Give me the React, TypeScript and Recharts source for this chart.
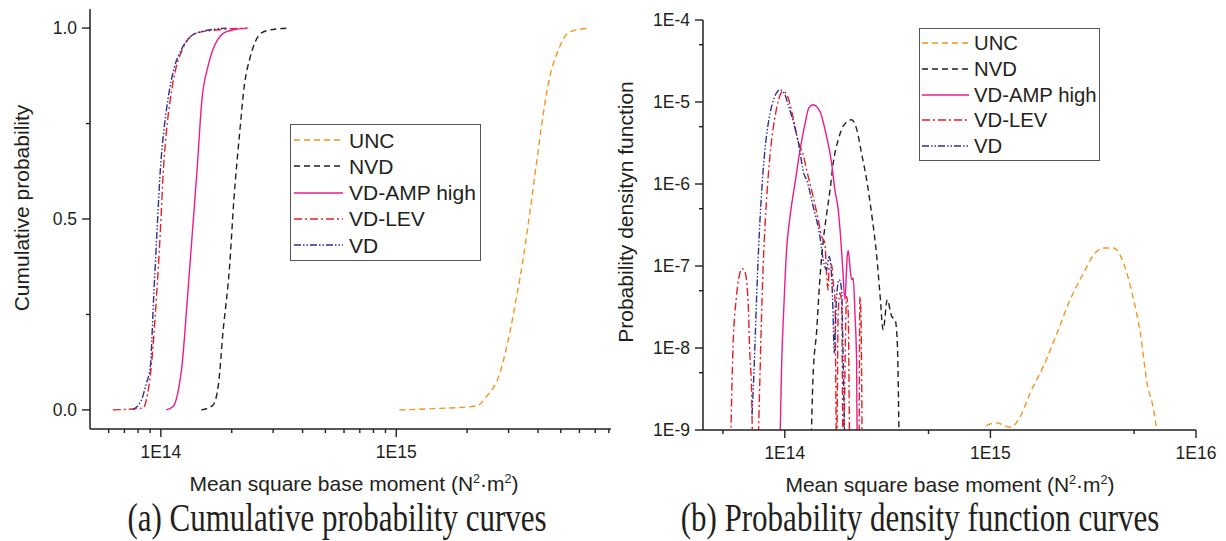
import React from 'react'
import { LineChart, Line, XAxis, YAxis, Legend } from 'recharts'

type Pt = [number, number]

// (a) cumulative probability, x = mean square base moment
const cdfUNC: Pt[] = [[1.03e15,0],[1.53e15,0.004],[2.19e15,0.01],[2.41e15,0.034],[2.75e15,0.095],[3.03e15,0.2],[3.23e15,0.29],[3.45e15,0.39],[3.68e15,0.51],[3.93e15,0.64],[4.2e15,0.77],[4.48e15,0.87],[4.86e15,0.94],[5.45e15,0.99],[6.63e15,1]]
const cdfNVD: Pt[] = [[1.485e14,0],[1.663e14,0.012],[1.758e14,0.069],[1.834e14,0.2],[1.958e14,0.375],[2.042e14,0.549],[2.16e14,0.724],[2.27e14,0.856],[2.38e14,0.917],[2.67e14,0.987],[2.9e14,0.995],[3.52e14,1]]
const cdfAMP: Pt[] = [[1.054e14,0],[1.124e14,0.008],[1.2e14,0.069],[1.228e14,0.113],[1.295e14,0.288],[1.36e14,0.4625],[1.428e14,0.637],[1.494e14,0.812],[1.584e14,0.899],[1.663e14,0.943],[1.847e14,0.987],[2.02e14,0.995],[2.31e14,1]]
const cdfLEV: Pt[] = [[6.25e13,0],[8.4e13,0.005],[8.67e13,0.025],[9.1e13,0.113],[9.56e13,0.288],[9.94e13,0.4625],[1.027e14,0.637],[1.054e14,0.725],[1.096e14,0.812],[1.163e14,0.899],[1.233e14,0.943],[1.413e14,0.987],[1.72e14,0.995],[2.34e14,1]]
const cdfVD: Pt[] = [[7.58e13,0],[8.26e13,0.025],[8.67e13,0.069],[9.02e13,0.113],[9.31e13,0.288],[9.62e13,0.4625],[9.97e13,0.637],[1.027e14,0.725],[1.071e14,0.812],[1.143e14,0.899],[1.221e14,0.943],[1.413e14,0.987],[1.9e14,1]]

// (b) probability density (5e-10 = drops below the 1E-9 floor)
const pdfUNC: Pt[] = [[8.9e14,5e-10],[9.53e14,1.13e-9],[1.07e15,1.22e-9],[1.25e15,1.08e-9],[1.4e15,1.47e-9],[1.56e15,2.83e-9],[1.81e15,5.97e-9],[2.11e15,1.52e-8],[2.44e15,3.88e-8],[2.84e15,8.2e-8],[3.18e15,1.37e-7],[3.55e15,1.66e-7],[3.97e15,1.66e-7],[4.44e15,1.09e-7],[4.97e15,3.88e-8],[5.36e15,1.52e-8],[5.78e15,3.74e-9],[6.22e15,1.77e-9],[6.66e15,5e-10]]
const pdfNVD: Pt[] = [[1.34e14,5e-10],[1.37e14,4.1e-9],[1.43e14,1.67e-8],[1.48e14,6.8e-8],[1.54e14,2.09e-7],[1.6e14,4.43e-7],[1.66e14,8.5e-7],[1.72e14,1.8e-6],[1.82e14,3.47e-6],[1.92e14,5.04e-6],[2.11e14,6.08e-6],[2.24e14,4.6e-6],[2.36e14,2.39e-6],[2.5e14,1.13e-6],[2.64e14,4.43e-7],[2.8e14,1.31e-7],[2.9e14,4.69e-8],[3.01e14,1.67e-8],[3.15e14,3.88e-8],[3.31e14,2.43e-8],[3.44e14,2.21e-8],[3.52e14,1.26e-8],[3.56e14,4.1e-9],[3.6e14,5e-10]]
const pdfAMP: Pt[] = [[9.45e13,5e-10],[9.64e13,5.7e-9],[9.92e13,3.7e-8],[1.019e14,1.51e-7],[1.058e14,3.85e-7],[1.118e14,9.8e-7],[1.183e14,2.5e-6],[1.251e14,5.29e-6],[1.309e14,8.5e-6],[1.373e14,9.27e-6],[1.481e14,7.68e-6],[1.596e14,3.8e-6],[1.689e14,1.8e-6],[1.752e14,8.5e-7],[1.818e14,4.86e-7],[1.867e14,2.3e-7],[1.91e14,9.9e-8],[1.96e14,3.88e-8],[2.012e14,1.31e-7],[2.034e14,1.55e-7],[2.073e14,9.9e-8],[2.113e14,6.8e-8],[2.151e14,7.14e-8],[2.193e14,2.67e-8],[2.235e14,6.56e-9],[2.25e14,5e-10]]
const pdfLEV: Pt[] = [[5.44e13,5e-10],[5.6e13,1.05e-8],[5.82e13,4.26e-8],[6.1e13,8.8e-8],[6.2e13,9.3e-8],[6.39e13,8.6e-8],[6.63e13,3.7e-8],[6.75e13,9.1e-9],[6.88e13,3.57e-9],[7.0e13,5e-10],[7.36e13,5e-10],[7.55e13,3.57e-9],[7.7e13,2.32e-8],[7.84e13,9.46e-8],[8.05e13,3.85e-7],[8.29e13,1.18e-6],[8.61e13,3.31e-6],[8.94e13,6.38e-6],[9.28e13,1.02e-5],[9.83e13,1.35e-5],[1.038e14,1.12e-5],[1.098e14,6.38e-6],[1.161e14,3.31e-6],[1.228e14,2.28e-6],[1.276e14,1.49e-6],[1.373e14,7.06e-7],[1.453e14,3.67e-7],[1.51e14,2.3e-7],[1.566e14,1.9e-7],[1.596e14,8.2e-8],[1.625e14,5.1e-8],[1.644e14,9.9e-8],[1.689e14,1.04e-7],[1.72e14,6.2e-8],[1.752e14,4.26e-8],[1.786e14,5e-10],[1.818e14,2.67e-8],[1.853e14,4.69e-8],[1.889e14,3.56e-8],[1.923e14,5e-10],[1.998e14,4.26e-8],[2.034e14,2.67e-8],[2.073e14,5e-10],[2.293e14,5e-10],[2.319e14,4.26e-8],[2.345e14,2.67e-8],[2.379e14,5e-10]]
const pdfVD: Pt[] = [[6.93e13,1.54e-9],[7.09e13,5.7e-9],[7.28e13,3.7e-8],[7.47e13,1.82e-7],[7.7e13,7.41e-7],[7.99e13,2.5e-6],[8.29e13,5.29e-6],[8.67e13,9.27e-6],[9.11e13,1.29e-5],[9.45e13,1.41e-5],[9.92e13,1.29e-5],[1.038e14,9.27e-6],[1.098e14,5.8e-6],[1.161e14,3.31e-6],[1.242e14,1.3e-6],[1.276e14,1.13e-6],[1.373e14,5.33e-7],[1.481e14,2.3e-7],[1.537e14,1.19e-7],[1.596e14,9e-8],[1.644e14,1.31e-7],[1.689e14,7.47e-8],[1.72e14,2.21e-8],[1.738e14,8.7e-9],[1.786e14,4.26e-8],[1.839e14,6.8e-8],[1.889e14,5.1e-8],[1.923e14,6.56e-9],[1.96e14,5e-10]]

const names = ['UNC', 'NVD', 'VD-AMP high', 'VD-LEV', 'VD']
const colors = ['#F7941D', '#231F20', '#EC1C8C', '#ED1C24', '#2E3192']
const dashes = ['6 4', '6 4', undefined, '8 3 2 3', '7 2 1.5 2 1.5 2']
const cdfSeries = [cdfUNC, cdfNVD, cdfAMP, cdfLEV, cdfVD]
const pdfSeries = [pdfUNC, pdfNVD, pdfAMP, pdfLEV, pdfVD]

const cdfXTicks = [6e13,7e13,8e13,9e13,1e14,2e14,3e14,4e14,5e14,6e14,7e14,8e14,9e14,1e15,2e15,3e15,4e15,5e15,6e15,7e15,8e15]
const cdfXLabels: Record<string,string> = { [String(1e14)]: '1E14', [String(1e15)]: '1E15' }
const cdfYTicks = [0, 0.25, 0.5, 0.75, 1]
const cdfYLabels: Record<string,string> = { '0': '0.0', '0.5': '0.5', '1': '1.0' }
const pdfXTicks = [5e13, 1e14, 5e14, 1e15, 5e15, 1e16]
const pdfXLabels: Record<string,string> = { [String(1e14)]: '1E14', [String(1e15)]: '1E15', [String(1e16)]: '1E16' }
const pdfYTicks = [1e-9,5e-9,1e-8,5e-8,1e-7,5e-7,1e-6,5e-6,1e-5,5e-5,1e-4]
const pdfYLabels: Record<string,string> = { [String(1e-9)]: '1E-9', [String(1e-8)]: '1E-8', [String(1e-7)]: '1E-7', [String(1e-6)]: '1E-6', [String(1e-5)]: '1E-5', [String(1e-4)]: '1E-4' }

const INK = '#231F20'
const SANS = 'Arial, "Liberation Sans", sans-serif'
const SERIF = '"Times New Roman", "Liberation Serif", serif'

const rows = (pts: Pt[]) => pts.map(([x, y]) => ({ x, y }))

const XTick = ({ x, y, payload, labels }: any) => {
  const lab = labels[String(payload.value)]
  return (
    <g>
      <line x1={x} x2={x} y1={y} y2={y + (lab ? 8 : 4)} stroke={INK} strokeWidth={1.4} />
      {lab && <text x={x} y={y + 29} textAnchor="middle" fontSize={17.5} fontFamily={SANS} fill={INK}>{lab}</text>}
    </g>
  )
}
const YTick = ({ x, y, payload, labels }: any) => {
  const lab = labels[String(payload.value)]
  return (
    <g>
      <line x1={x - (lab ? 8 : 4)} x2={x} y1={y} y2={y} stroke={INK} strokeWidth={1.4} />
      {lab && <text x={x - 13} y={y} dy="0.36em" textAnchor="end" fontSize={17.5} fontFamily={SANS} fill={INK}>{lab}</text>}
    </g>
  )
}

const LegendBox = ({ width, rowH, padTop, inset, lineLen, gap, fontSize }: any) => (
  <div style={{ width, boxSizing: 'border-box', border: '1.3px solid #555', background: '#fff', paddingTop: padTop, paddingBottom: padTop, fontFamily: SANS, color: INK }}>
    {names.map((n, i) => (
      <div key={n} style={{ display: 'flex', alignItems: 'center', height: rowH }}>
        <svg width={lineLen} height={6} style={{ marginLeft: inset, flex: 'none' }}>
          <line x1={0} x2={lineLen} y1={3} y2={3} stroke={colors[i]} strokeWidth={1.5} strokeDasharray={dashes[i]} />
        </svg>
        <span style={{ marginLeft: gap, fontSize, lineHeight: 1, whiteSpace: 'nowrap' }}>{n}</span>
      </div>
    ))}
  </div>
)

const AxisTitle = () => (
  <span>Mean square base moment (N<sup style={{ fontSize: '0.6em', lineHeight: 0 }}>2</sup>·m<sup style={{ fontSize: '0.6em', lineHeight: 0 }}>2</sup>)</span>
)

const abs = (left: number, top: number, extra: React.CSSProperties = {}): React.CSSProperties => ({
  position: 'absolute', left, top, transform: 'translate(-50%,-50%)', whiteSpace: 'nowrap', lineHeight: 1, color: INK, ...extra,
})

export default function App() {
  return (
    <div style={{ position: 'absolute', left: 0, top: 0, width: 1226, height: 541, background: '#fff', overflow: 'hidden' }}>
      <div style={{ position: 'absolute', left: 0, top: 0 }}>
        <LineChart width={620} height={541} margin={{ top: 9, right: 9, bottom: 72, left: 0 }}>
          <XAxis dataKey="x" type="number" scale="log" domain={[5e13, 8.17e15]} allowDataOverflow ticks={cdfXTicks} interval={0}
            height={40} tickSize={0} tickMargin={0} tickLine={false} axisLine={{ stroke: INK, strokeWidth: 1.5 }}
            tick={(p: any) => <XTick {...p} labels={cdfXLabels} />} />
          <YAxis type="number" domain={[-0.05, 1.05]} allowDataOverflow ticks={cdfYTicks} interval={0} width={90}
            tickSize={0} tickMargin={0} tickLine={false} axisLine={{ stroke: INK, strokeWidth: 1.5 }}
            tick={(p: any) => <YTick {...p} labels={cdfYLabels} />} />
          {cdfSeries.map((s, i) => (
            <Line key={names[i]} data={rows(s)} dataKey="y" name={names[i]} type="monotone" stroke={colors[i]} strokeWidth={1.4}
              strokeDasharray={dashes[i]} dot={false} isAnimationActive={false} />
          ))}
          <Legend layout="vertical" align="center" verticalAlign="middle" wrapperStyle={{ left: 290, top: 124, width: 191 }}
            content={() => <LegendBox width={191} rowH={26.25} padTop={2} inset={3} lineLen={49} gap={6} fontSize={21} />} />
        </LineChart>
      </div>
      <div style={{ position: 'absolute', left: 610, top: 0 }}>
        <LineChart width={616} height={541} margin={{ top: 20, right: 30, bottom: 71, left: 0 }}>
          <XAxis dataKey="x" type="number" scale="log" domain={[4e13, 1e16]} allowDataOverflow ticks={pdfXTicks} interval={0}
            height={40} tickSize={0} tickMargin={0} tickLine={false} axisLine={{ stroke: INK, strokeWidth: 1.5 }}
            tick={(p: any) => <XTick {...p} labels={pdfXLabels} />} />
          <YAxis type="number" scale="log" domain={[1e-9, 1e-4]} allowDataOverflow ticks={pdfYTicks} interval={0} width={93}
            tickSize={0} tickMargin={0} tickLine={false} axisLine={{ stroke: INK, strokeWidth: 1.5 }}
            tick={(p: any) => <YTick {...p} labels={pdfYLabels} />} />
          {pdfSeries.map((s, i) => (
            <Line key={names[i]} data={rows(s)} dataKey="y" name={names[i]} type="monotone" stroke={colors[i]} strokeWidth={1.4}
              strokeDasharray={dashes[i]} dot={false} isAnimationActive={false} />
          ))}
          <Legend layout="vertical" align="center" verticalAlign="middle" wrapperStyle={{ left: 309, top: 28, width: 181 }}
            content={() => <LegendBox width={181} rowH={25.7} padTop={1.5} inset={2} lineLen={47} gap={5} fontSize={20.3} />} />
        </LineChart>
      </div>

      <div style={abs(21, 208, { fontFamily: SANS, fontSize: 21, transform: 'translate(-50%,-50%) rotate(-90deg)' })}>Cumulative probability</div>
      <div style={abs(625, 212, { fontFamily: SANS, fontSize: 21, transform: 'translate(-50%,-50%) rotate(-90deg)' })}>Probability densityn function</div>
      <div style={abs(354, 483, { fontFamily: SANS, fontSize: 21 })}><AxisTitle /></div>
      <div style={abs(950, 484, { fontFamily: SANS, fontSize: 21 })}><AxisTitle /></div>
      <div style={abs(337, 519, { fontFamily: SERIF, fontSize: 31, lineHeight: 0.8, transform: 'translate(-50%,-50%) scaleY(1.28)' })}>(a) Cumulative probability curves</div>
      <div style={abs(920, 519, { fontFamily: SERIF, fontSize: 31, lineHeight: 0.8, transform: 'translate(-50%,-50%) scaleY(1.28)' })}>(b) Probability density function curves</div>
    </div>
  )
}
